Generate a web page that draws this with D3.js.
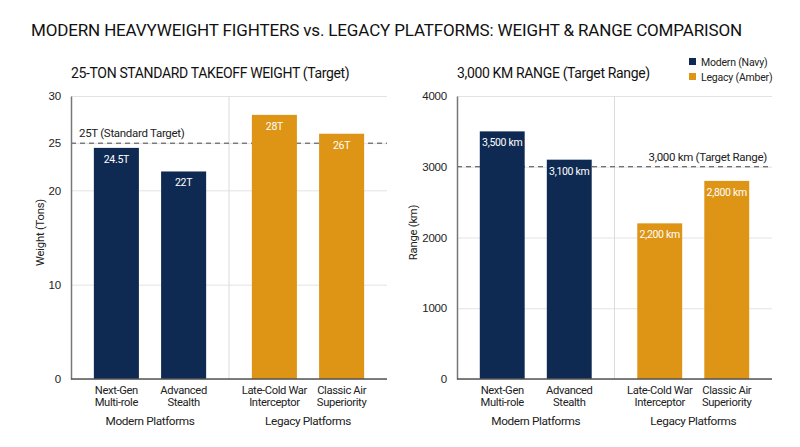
<!DOCTYPE html>
<html>
<head>
<meta charset="utf-8">
<script src="https://cdn.jsdelivr.net/npm/d3@7"></script>
<style>
  body { margin: 0; background: #fff; }
  svg { font-family: Roboto, 'Noto Sans', sans-serif; }
  .tick text { fill: #222; font-size: 11.5px; letter-spacing: -0.2px; }
  .grid line { stroke: #e3e3e3; }
  .grid path { display: none; }
</style>
</head>
<body>
<div id="chart"></div>
<script>
'use strict';
// data
const groups = ['Modern Platforms', 'Legacy Platforms']
const aircraft = [
    { name: ['Next-Gen', 'Multi-role'], group: 'Modern Platforms' },
    { name: ['Advanced', 'Stealth'], group: 'Modern Platforms' },
    { name: ['Late-Cold War', 'Interceptor'], group: 'Legacy Platforms' },
    { name: ['Classic Air', 'Superiority'], group: 'Legacy Platforms' }
]
const weightTons = [24.5, 22, 28, 26]
const weightLabels = ['24.5T', '22T', '28T', '26T']
const weightTicks = [0, 10, 20, 25, 30]
const rangeKm = [3500, 3100, 2200, 2800]
const rangeLabels = ['3,500 km', '3,100 km', '2,200 km', '2,800 km']
const rangeTicks = [0, 1000, 2000, 3000, 4000]
const navy = '#0f2a52'
const amber = '#de9414'

const svg = d3.select('#chart').append('svg')
    .attr('width', 800)
    .attr('height', 447)

svg.append('text') // main title
    .attr('x', 31)
    .attr('y', 36)
    .attr('font-size', 17)
    .attr('letter-spacing', -0.15)
    .attr('fill', '#111')
    .text('MODERN HEAVYWEIGHT FIGHTERS vs. LEGACY PLATFORMS: WEIGHT & RANGE COMPARISON')

function drawPanel(opts) {
    const left = opts.left, right = opts.right, top = 96, bottom = 379
    const g = svg.append('g')
    const y = d3.scaleLinear().domain(opts.domain).range([bottom, top])
    const xGroup = d3.scaleBand().domain(groups).range([left, right])
    const xBar = d3.scaleBand().domain([0, 1]).range([0, xGroup.bandwidth()])
        .paddingInner(0.33).paddingOuter(0.34)

    g.append('text') // panel title
        .attr('x', left)
        .attr('y', 78)
        .attr('font-size', 14)
        .attr('letter-spacing', -0.35)
        .attr('fill', '#111')
        .text(opts.title)

    g.append('g') // horizontal gridlines
        .attr('class', 'grid')
        .attr('transform', `translate(${left},0)`)
        .call(d3.axisLeft(y).tickValues(opts.ticks).tickSize(-(right - left)).tickFormat(''))

    g.append('line') // group divider
        .attr('x1', xGroup(groups[1])).attr('x2', xGroup(groups[1]))
        .attr('y1', top).attr('y2', bottom)
        .attr('stroke', '#dcdcdc')

    g.append('line') // dashed target line
        .attr('x1', left).attr('x2', right)
        .attr('y1', y(opts.target)).attr('y2', y(opts.target))
        .attr('stroke', '#444')
        .attr('stroke-dasharray', '5,4')

    const barX = (d, i) => xGroup(aircraft[i].group) + xBar(i % 2)
    g.selectAll('.bar').data(opts.values).enter().append('rect')
        .attr('class', 'bar')
        .attr('x', barX)
        .attr('y', d => y(d))
        .attr('width', xBar.bandwidth())
        .attr('height', d => bottom - y(d))
        .attr('fill', (d, i) => aircraft[i].group === groups[0] ? navy : amber)

    g.selectAll('.vlabel').data(opts.values).enter().append('text')
        .attr('class', 'vlabel')
        .attr('x', (d, i) => barX(d, i) + xBar.bandwidth() / 2)
        .attr('y', d => y(d) + 15)
        .attr('text-anchor', 'middle')
        .attr('font-size', 10.5)
        .attr('letter-spacing', -0.3)
        .attr('fill', '#fff')
        .text((d, i) => opts.labels[i])

    g.append('text') // target label
        .attr('x', opts.targetAnchor === 'end' ? right - 5 : left + 8)
        .attr('y', y(opts.target) - 6)
        .attr('text-anchor', opts.targetAnchor)
        .attr('font-size', 11.5)
        .attr('letter-spacing', -0.3)
        .attr('fill', '#222')
        .text(opts.targetLabel)

    const yAxis = g.append('g') // y axis
        .attr('transform', `translate(${left},0)`)
        .call(d3.axisLeft(y).tickValues(opts.ticks).tickSize(0).tickPadding(10).tickFormat(d3.format('d')))
    yAxis.select('.domain').attr('stroke', '#777').attr('stroke-width', 1.5)

    g.append('line') // x axis baseline
        .attr('x1', left).attr('x2', right)
        .attr('y1', bottom).attr('y2', bottom)
        .attr('stroke', '#555').attr('stroke-width', 1.5)

    const names = g.selectAll('.xname').data(aircraft).enter().append('text')
        .attr('class', 'xname')
        .attr('text-anchor', 'middle')
        .attr('font-size', 11.2)
        .attr('letter-spacing', -0.35)
        .attr('fill', '#222')
    names.each(function(d, i) {
        const cx = barX(null, i) + xBar.bandwidth() / 2
        d3.select(this).selectAll('tspan').data(d.name).enter().append('tspan')
            .attr('x', cx)
            .attr('y', (t, j) => 394 + j * 12)
            .text(t => t)
    })

    g.selectAll('.gname').data(groups).enter().append('text')
        .attr('class', 'gname')
        .attr('x', d => xGroup(d) + xGroup.bandwidth() / 2)
        .attr('y', 425)
        .attr('text-anchor', 'middle')
        .attr('font-size', 11.8)
        .attr('letter-spacing', -0.4)
        .attr('fill', '#222')
        .text(d => d)

    g.append('text') // y axis label
        .attr('transform', 'rotate(-90)')
        .attr('x', -(top + bottom) / 2 + 5)
        .attr('y', opts.yLabelX)
        .attr('text-anchor', 'middle')
        .attr('font-size', 11.2)
        .attr('letter-spacing', -0.2)
        .attr('fill', '#222')
        .text(opts.yLabel)
}

drawPanel({
    left: 71, right: 387, domain: [0, 30], ticks: weightTicks,
    values: weightTons, labels: weightLabels,
    title: '25-TON STANDARD TAKEOFF WEIGHT (Target)',
    target: 25, targetLabel: '25T (Standard Target)', targetAnchor: 'start',
    yLabel: 'Weight (Tons)', yLabelX: 44
})
drawPanel({
    left: 457, right: 772, domain: [0, 4000], ticks: rangeTicks,
    values: rangeKm, labels: rangeLabels,
    title: '3,000 KM RANGE (Target Range)',
    target: 3000, targetLabel: '3,000 km (Target Range)', targetAnchor: 'end',
    yLabel: 'Range (km)', yLabelX: 417
})

const legend = svg.append('g') // legend
    .selectAll('g').data([['Modern (Navy)', navy], ['Legacy (Amber)', amber]]).enter().append('g')
    .attr('transform', (d, i) => `translate(689,${58 + i * 15})`)
legend.append('rect')
    .attr('width', 7).attr('height', 7)
    .attr('fill', d => d[1])
legend.append('text')
    .attr('x', 12).attr('y', 7.5)
    .attr('font-size', 10.5)
    .attr('letter-spacing', -0.2)
    .attr('fill', '#222')
    .text(d => d[0])
</script>
</body>
</html>
